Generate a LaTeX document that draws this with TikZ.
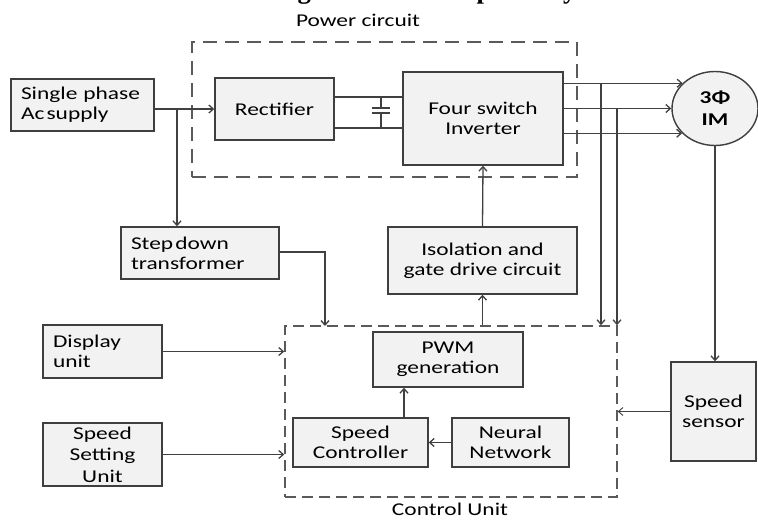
\documentclass[tikz,border=0pt]{standalone}
\usepackage{fontspec}
\setmainfont{Carlito}[FakeStretch=1.3]
\newfontfamily\titlefont{Liberation Serif}
\usetikzlibrary{arrows.meta,shapes.geometric}
\definecolor{boxfill}{HTML}{F2F2F2}
\definecolor{boxline}{HTML}{3F3F3F}
\definecolor{wirecol}{HTML}{404040}
\definecolor{dashcol}{HTML}{5A5A5A}
\tikzset{
  blk/.style={draw=boxline, fill=boxfill, line width=1.4pt, inner sep=0pt, align=center,
    font=\fontsize{18}{20}\selectfont},
  lblk/.style={blk, align=left, inner xsep=10pt},
  grp/.style={draw=dashcol, line width=2pt, dash pattern=on 14pt off 8pt, inner sep=0pt},
  grpb/.style={draw=dashcol, line width=1.6pt, dash pattern=on 11pt off 6pt, inner sep=0pt},
  wire/.style={draw=wirecol, line width=1.3pt},
  arr/.style={wire, -{Straight Barb[length=4.5pt,width=8pt]}},
  thinarr/.style={draw=wirecol, line width=0.9pt, -{Straight Barb[length=4.5pt,width=8pt]}},
  grplabel/.style={font=\fontsize{18}{20}\selectfont}
}
\begin{document}
\begin{tikzpicture}[x=1pt,y=-1pt]
\useasboundingbox (0,0) rectangle (758,520);
% title (cut off at top edge, only descenders visible)
\node[anchor=base west, inner sep=0pt] (title) at (157,-1.5) {\titlefont\bfseries\fontsize{26.6}{30}\selectfont 1. Block Diagram of the Proposed System};

% group boxes
\node[grp, minimum width=385pt, minimum height=135pt] (pc) at (384.5,109.5) {};
\node[grpb, minimum width=332pt, minimum height=171pt] (cu) at (451,411.5) {};
\node[grplabel] (pclbl) at (358,20) {Power circuit};
\node[grplabel] (culbl) at (450,509.5) {Control Unit};

% blocks
\node[lblk, minimum width=143pt, minimum height=52pt, text width=123pt] (sps) at (82.5,105) {Single phase\\Ac\hspace{0.12em}supply};
\node[blk, minimum width=119pt, minimum height=62pt] (rect) at (274.5,109) {Rectifier};
\node[blk, minimum width=160pt, minimum height=93pt] (inv) at (483,118.5) {Four switch\\Inverter};
\node[ellipse, draw=boxline, fill=boxfill, line width=1.4pt, inner sep=0pt, minimum width=86pt, minimum height=74pt, align=center, font=\bfseries\fontsize{18}{22}\selectfont] (im) at (715,108.5) {3Φ\\IM};
\node[lblk, minimum width=158pt, minimum height=52pt, text width=138pt] (sdt) at (200,253) {Step\hspace{0.12em}down\\transformer};
\node[blk, minimum width=189pt, minimum height=67pt] (iso) at (482.5,260.5) {Isolation and\\gate drive circuit};
\node[lblk, minimum width=119pt, minimum height=53pt, text width=99pt] (disp) at (102.5,351.5) {Display\\unit};
\node[blk, minimum width=150pt, minimum height=55pt] (pwm) at (448,359.5) {PWM\\generation};
\node[blk, minimum width=135pt, minimum height=49pt] (sc) at (360.5,442.5) {Speed\\Controller};
\node[blk, minimum width=117pt, minimum height=49pt] (nn) at (510.5,442.5) {Neural\\Network};
\node[blk, minimum width=119pt, minimum height=63pt, font=\fontsize{18}{21.5}\selectfont] (sss) at (102.5,454.5) {Speed\\Setting\\Unit};
\node[blk, minimum width=85pt, minimum height=99pt] (sens) at (713.5,411.5) {Speed\\sensor};

% supply to rectifier and step-down transformer
\draw[arr] (sps.east |- rect.west) -- (rect.west);
\coordinate (br) at (177,109);
\draw[arr] (br) -- (br |- sdt.north);

% DC link with capacitor
\draw[wire] (rect.east |- 0,97) -- (inv.west |- 0,97);
\draw[wire] (rect.east |- 0,128) -- (inv.west |- 0,128);
\coordinate (cp) at (381,110.5);
\draw[wire] (cp |- 0,97) -- (cp |- 0,108) (372,108) -- (390,108)
            (372,113) -- (390,113) (cp |- 0,113) -- (cp |- 0,128);

% inverter to motor
\draw[arr] (inv.east |- im.142.7) -- (im.142.7);
\draw[arr] (inv.east |- im.west) -- (im.west);
\draw[arr] (inv.east |- im.217.3) -- (im.217.3);

% feedback taps to control unit
\coordinate (t1) at (601,84);
\coordinate (t2) at (617,109);
\draw[arr] (t1) -- (t1 |- cu.north);
\draw[arr] (t2) -- (t2 |- cu.north);

% gate drive path
\draw[arr] (iso.north) -- (inv.south);
\draw[arr] (iso.south |- cu.north) -- (iso.south);

% control internals
\coordinate (scp) at (404,0);
\draw[arr] (sc.north -| scp) -- (pwm.south -| scp);
\draw[arr] (nn.west) -- (sc.east);

% inputs to control unit
\coordinate (sdin) at (325,326);
\draw[arr] (sdt.east |- 0,252) -| (sdin);
\draw[arr] (disp.east) -- (disp.east -| cu.west);
\draw[arr] (sss.east) -- (sss.east -| cu.west);

% speed feedback
\draw[arr] (im.south) -- (im.south |- sens.north);
\draw[thinarr] (sens.west) -- (sens.west -| cu.east);
\end{tikzpicture}
\end{document}
